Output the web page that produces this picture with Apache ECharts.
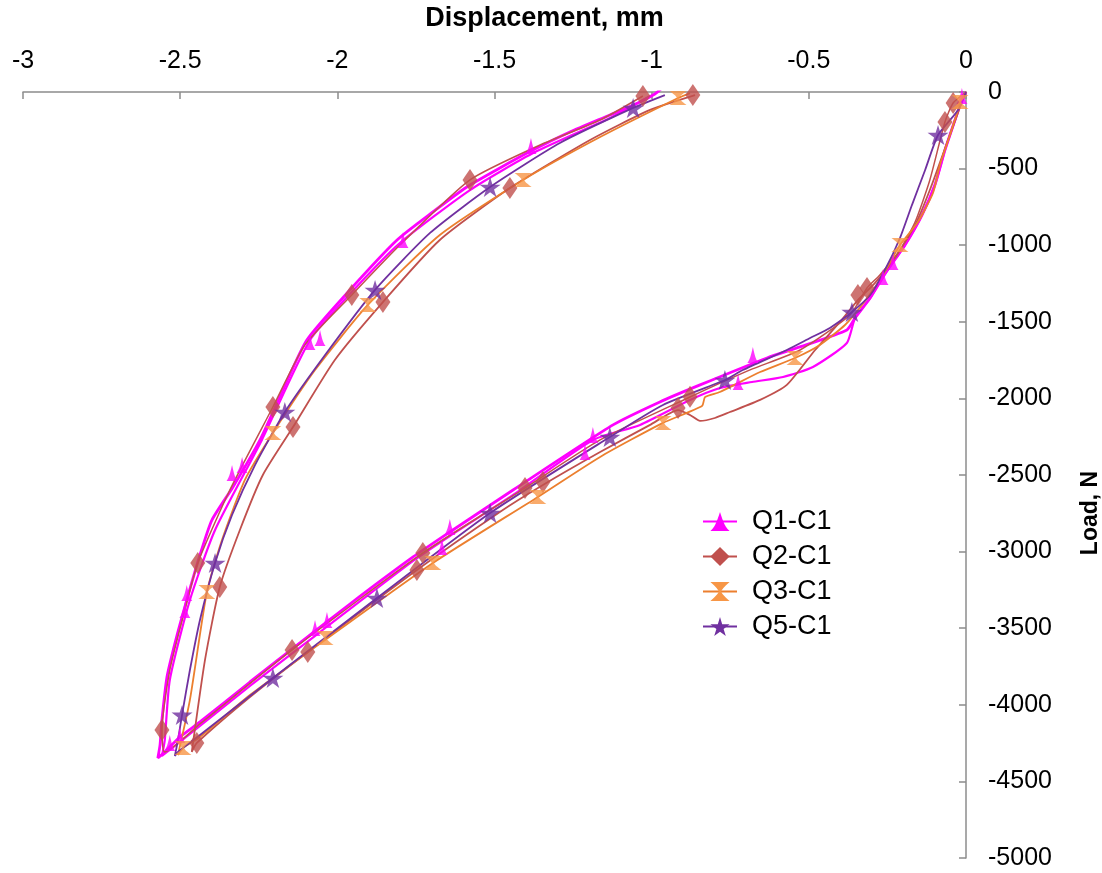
<!DOCTYPE html>
<html><head><meta charset="utf-8">
<script src="https://cdn.jsdelivr.net/npm/echarts@6/dist/echarts.min.js"></script>
<style>html,body{margin:0;padding:0;background:#fff;overflow:hidden}#c{width:1102px;height:873px}</style>
</head><body><div id="c"></div><script>
// ---- data (displacement mm, load N) ----
const seriesNames = ['Q1-C1', 'Q2-C1', 'Q3-C1', 'Q5-C1'];
const xTicks = [-3, -2.5, -2, -1.5, -1, -0.5, 0];
const yTicks = [0, -500, -1000, -1500, -2000, -2500, -3000, -3500, -4000, -4500, -5000];

const q1Rise = [[0,0],[-0.013,-52],[-0.035,-183],[-0.067,-379],[-0.099,-607],[-0.140,-803],[-0.194,-999],[-0.232,-1110],[-0.264,-1207],[-0.305,-1345],[-0.353,-1475]];
const q1LoadA = [[-0.379,-1553],[-0.528,-1664],[-0.633,-1736],[-0.846,-1912],[-0.974,-2023],[-1.123,-2173],[-1.441,-2598],[-1.642,-2872],[-1.759,-3035],[-1.960,-3342],[-2.119,-3596],[-2.278,-3851],[-2.437,-4112],[-2.501,-4210],[-2.549,-4308],[-2.571,-4347]];
const q1UnloadA = [[-2.564,-4262],[-2.558,-4099],[-2.542,-3818],[-2.514,-3577],[-2.479,-3316],[-2.437,-3022],[-2.399,-2794],[-2.332,-2578],[-2.246,-2271],[-2.173,-1945],[-2.097,-1619],[-1.960,-1292],[-1.810,-966],[-1.696,-783],[-1.588,-620],[-1.483,-496],[-1.378,-379],[-1.260,-261],[-1.133,-150],[-1.037,-65],[-0.990,-13],[-0.967,26]];
const q1LoadB = [[-0.379,-1638],[-0.487,-1795],[-0.582,-1860],[-0.681,-1893],[-0.783,-1932],[-0.878,-2010],[-1.037,-2173],[-1.187,-2271],[-1.441,-2630],[-1.642,-2898],[-1.759,-3061],[-2.055,-3525],[-2.278,-3877],[-2.437,-4138],[-2.533,-4295],[-2.558,-4334]];
const q1UnloadB = [[-2.549,-4230],[-2.533,-3838],[-2.469,-3316],[-2.389,-2859],[-2.240,-2271],[-2.087,-1619],[-1.954,-1305],[-1.801,-986],[-1.578,-640],[-1.371,-392],[-1.126,-163],[-1.005,-26]];
const q1Marks = [[-0.013,-26],[-0.232,-1110],[-0.264,-1207],[-0.678,-1717],[-0.725,-1893],[-1.187,-2239],[-1.212,-2350],[-1.642,-2839],[-1.667,-2970],[-2.033,-3446],[-2.071,-3498],[-2.501,-4197],[-2.533,-4249],[-2.485,-3381],[-2.479,-3270],[-2.335,-2487],[-2.303,-2435],[-2.087,-1632],[-2.055,-1606],[-1.791,-966],[-1.384,-352],[-0.990,13],[-0.964,39]];

const q2LoadA = [[0,0],[-0.041,-72],[-0.067,-196],[-0.115,-574],[-0.162,-849],[-0.210,-1031],[-0.274,-1194],[-0.315,-1279],[-0.369,-1456],[-0.528,-1684],[-0.687,-1814],[-0.878,-1991],[-1.164,-2271],[-1.403,-2585],[-1.728,-3009],[-2.144,-3642],[-2.437,-4125],[-2.549,-4308]];
const q2UnloadA = [[-2.558,-4164],[-2.533,-3773],[-2.485,-3381],[-2.444,-3074],[-2.342,-2598],[-2.205,-2056],[-2.103,-1651],[-1.954,-1325],[-1.801,-999],[-1.578,-574],[-1.355,-346],[-1.164,-183],[-1.028,-26]];
const q2LoadB = [[0,0],[-0.025,-131],[-0.057,-313],[-0.115,-640],[-0.162,-868],[-0.226,-1083],[-0.290,-1247],[-0.344,-1358],[-0.401,-1501],[-0.480,-1684],[-0.570,-1912],[-0.655,-2010],[-0.751,-2089],[-0.799,-2128],[-0.846,-2147],[-0.878,-2108],[-0.916,-2076],[-1.005,-2173],[-1.164,-2350],[-1.346,-2565],[-1.483,-2741],[-1.747,-3120],[-2.094,-3655],[-2.278,-3949],[-2.447,-4249],[-2.463,-4308]];
const q2UnloadB = [[-2.421,-3707],[-2.374,-3231],[-2.310,-2859],[-2.237,-2500],[-2.141,-2187],[-2.008,-1749],[-1.855,-1371],[-1.674,-966],[-1.451,-627],[-1.196,-313],[-1.005,-117],[-0.862,-20]];
const q2Marks = [[-0.041,-72],[-0.067,-196],[-0.315,-1279],[-0.344,-1325],[-0.878,-1990],[-0.916,-2063],[-1.346,-2545],[-1.403,-2585],[-1.728,-3009],[-1.747,-3120],[-2.094,-3655],[-2.144,-3642],[-2.447,-4249],[-2.558,-4164],[-2.444,-3074],[-2.205,-2056],[-1.954,-1325],[-1.578,-574],[-1.028,-26],[-2.374,-3231],[-2.141,-2187],[-1.855,-1371],[-1.451,-627],[-0.869,-20]];

const q3Load = [[0,0],[-0.019,-78],[-0.051,-281],[-0.083,-476],[-0.105,-659],[-0.153,-849],[-0.210,-999],[-0.274,-1227],[-0.331,-1390],[-0.385,-1521],[-0.465,-1651],[-0.544,-1736],[-0.655,-1828],[-0.783,-1958],[-0.830,-1991],[-0.840,-2050],[-0.964,-2160],[-1.164,-2382],[-1.362,-2643],[-1.696,-3074],[-2.039,-3577],[-2.278,-3936],[-2.437,-4210],[-2.491,-4282],[-2.507,-4327]];
const q3Unload = [[-2.469,-3968],[-2.415,-3264],[-2.367,-2924],[-2.294,-2532],[-2.205,-2226],[-2.071,-1815],[-1.903,-1390],[-1.674,-933],[-1.409,-574],[-1.164,-294],[-0.916,-39],[-0.878,-7]];
const q3Marks = [[-0.019,-65],[-0.210,-999],[-0.544,-1736],[-0.964,-2161],[-1.362,-2643],[-1.696,-3074],[-2.039,-3564],[-2.491,-4282],[-2.415,-3264],[-2.205,-2226],[-1.903,-1390],[-1.409,-574],[-0.916,-39]];

const q5Load = [[0,0],[-0.025,-117],[-0.089,-281],[-0.130,-509],[-0.172,-738],[-0.210,-953],[-0.258,-1162],[-0.305,-1325],[-0.363,-1436],[-0.433,-1540],[-0.496,-1606],[-0.570,-1684],[-0.710,-1815],[-0.767,-1880],[-0.964,-2043],[-1.133,-2252],[-1.514,-2748],[-1.874,-3303],[-2.205,-3825],[-2.437,-4197],[-2.507,-4308],[-2.517,-4334]];
const q5Unload = [[-2.507,-4230],[-2.494,-4066],[-2.469,-3773],[-2.437,-3446],[-2.389,-3074],[-2.335,-2761],[-2.262,-2435],[-2.167,-2089],[-2.039,-1717],[-1.880,-1292],[-1.705,-920],[-1.514,-620],[-1.292,-333],[-1.059,-104],[-0.958,-20]];
const q5Marks = [[-0.089,-281],[-0.363,-1436],[-0.767,-1880],[-1.133,-2252],[-1.514,-2748],[-1.874,-3303],[-2.205,-3825],[-2.494,-4066],[-2.389,-3074],[-2.167,-2089],[-1.880,-1292],[-1.514,-620],[-1.059,-104]];

// ---- styling ----
const colors = {q1:'#FF00FF', q2:'#C0504D', q3:'#F79646', q3line:'#EC7F2E', q5:'#7030A0'};
const SYM = {
  tri: 'path://M5,0 C6,4 7,10 10,14 L0,14 C3,10 4,4 5,0 Z',
  dia: 'diamond',
  hour: 'path://M0,0 L14,0 C10,3 8,5 8,6 C8,7 10,9 14,12 L0,12 C4,9 6,7 6,6 C6,5 4,3 0,0 Z',
  star: 'path://M50,0 L61,35 L98,35 L68,57 L79,91 L50,70 L21,91 L32,57 L2,35 L39,35 Z'
};
const FONT = 'Liberation Sans, Arial, sans-serif';

function lineS(name, data, color, width, symbol) {
  return {type:'line', name, data, showSymbol:false, symbol, symbolSize:16,
    lineStyle:{color, width}, itemStyle:{color}, smooth:0.2, z:2, silent:true};
}
function markS(name, data, color, symbol, size) {
  return {type:'scatter', name, data, symbol, symbolSize:size, itemStyle:{color}, z:3, silent:true};
}
const series = [
  lineS(seriesNames[0], q1Rise.concat(q1LoadA, q1UnloadA), colors.q1, 2.8, SYM.tri),
  lineS(seriesNames[0], q1Rise.concat(q1LoadB, q1UnloadB), colors.q1, 2.2, SYM.tri),
  markS(seriesNames[0], q1Marks, colors.q1, SYM.tri, [11,16]),
  lineS(seriesNames[1], q2LoadA.concat(q2UnloadA), colors.q2, 1.5, SYM.dia),
  lineS(seriesNames[1], q2LoadB.concat(q2UnloadB), colors.q2, 1.8, SYM.dia),
  markS(seriesNames[1], q2Marks, colors.q2, SYM.dia, [15,22]),
  Object.assign(lineS(seriesNames[2], q3Load.concat(q3Unload), colors.q3line, 1.8, SYM.hour), {itemStyle:{color:colors.q3}}),
  markS(seriesNames[2], q3Marks, colors.q3, SYM.hour, [17,14]),
  lineS(seriesNames[3], q5Load.concat(q5Unload), colors.q5, 1.8, SYM.star),
  markS(seriesNames[3], q5Marks, colors.q5, SYM.star, [21,20])
];

const chart = echarts.init(document.getElementById('c'), null, {renderer:'canvas', width:1102, height:873});
chart.setOption({
  animation:false,
  backgroundColor:'#fff',
  grid:{left:23, right:136, top:92, bottom:15, containLabel:false, outerBoundsMode:'none'},
  legend:{
    data:seriesNames, orient:'vertical', left:697, top:503,
    itemWidth:34, itemHeight:24, itemGap:8, selectedMode:false,
    textStyle:{fontFamily:FONT, fontSize:27, color:'#000', lineHeight:27, padding:[0,0,0,10]}
  },
  xAxis:{
    type:'value', position:'top', min:xTicks[0], max:xTicks[xTicks.length-1], interval:0.5,
    name:'Displacement, mm', nameLocation:'middle', nameGap:60,
    nameTextStyle:{fontFamily:FONT, fontSize:27, fontWeight:'bold', color:'#000', padding:[0,0,0,100]},
    axisLine:{show:true, onZero:false, lineStyle:{color:'#8c8c8c', width:1.5}},
    axisTick:{show:true, inside:true, length:7, lineStyle:{color:'#8c8c8c', width:1.5}},
    axisLabel:{fontFamily:FONT, fontSize:25, color:'#000', margin:18, formatter: v => String(v)},
    splitLine:{show:false}
  },
  yAxis:{
    type:'value', position:'right', min:yTicks[yTicks.length-1], max:yTicks[0], interval:500,
    name:'Load, N', nameLocation:'middle', nameGap:113,
    nameTextStyle:{fontFamily:FONT, fontSize:23, fontWeight:'bold', color:'#000', padding:[0,76,0,0]},
    axisLine:{show:true, onZero:false, lineStyle:{color:'#8c8c8c', width:1.5}},
    axisTick:{show:true, inside:true, length:7, lineStyle:{color:'#8c8c8c', width:1.5}},
    axisLabel:{fontFamily:FONT, fontSize:25, color:'#000', margin:22, formatter: v => String(v)},
    splitLine:{show:false}
  },
  series
});
</script></body></html>
